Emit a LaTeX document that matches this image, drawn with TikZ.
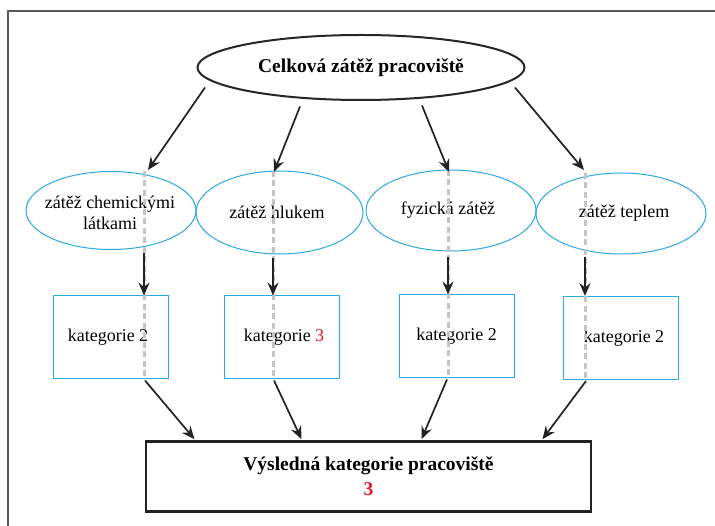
\documentclass[tikz,border=0pt]{standalone}
\usepackage{fontspec}
\setmainfont{Liberation Serif}
\usetikzlibrary{shapes.geometric,arrows.meta,calc}
\definecolor{ublue}{HTML}{29A9E1}
\definecolor{ured}{HTML}{E8152B}
\definecolor{frameg}{HTML}{5A5A5A}
\definecolor{dashg}{HTML}{C4C4C4}
\definecolor{arr}{HTML}{222222}
\begin{document}
\begin{tikzpicture}[x=1pt,y=-1pt,
  ell/.style={draw=ublue, line width=1pt, ellipse, inner sep=0pt},
  topell/.style={draw=black!85, line width=2pt, ellipse, inner sep=0pt},
  catbox/.style={draw=ublue, line width=1pt, rectangle, inner sep=0pt, minimum width=115pt, minimum height=83pt, font=\fontsize{18}{21}\selectfont},
  resbox/.style={draw=arr, line width=2.6pt, rectangle, inner sep=0pt, minimum width=445pt, minimum height=70pt, align=center, font=\bfseries\fontsize{19.5}{25}\selectfont},
  txt/.style={inner sep=0pt, align=center, font=\fontsize{18}{21}\selectfont},
  btxt/.style={inner sep=0pt, align=center, font=\bfseries\fontsize{19.5}{24}\selectfont},
  conn/.style={draw=arr, line width=1.7pt, -{Stealth[length=13pt,width=11pt,inset=4.5pt]}},
  guide/.style={draw=dashg, line width=3pt, dash pattern=on 6pt off 3.5pt}]
\useasboundingbox (0,0) rectangle (715,526);
\fill[white] (0,0) rectangle (715,526);
% outer frame
\coordinate (fl) at (7.5,526);
\coordinate (fc) at (7.5,11.5);
\coordinate (fr) at (715,11.5);
\draw[frameg, line width=2pt] (fl) -- (fc) -- (fr);

% top ellipse
\node[topell, minimum width=327pt, minimum height=65pt] (top) at (361,67.5) {};
\node[btxt] (toptxt) at (top.center) {Celková zátěž pracoviště};

% middle ellipses
\node[ell, minimum width=170pt, minimum height=78pt] (e1) at (111,210.5) {};
\node[ell, minimum width=167pt, minimum height=83pt] (e2) at (279.5,212.5) {};
\node[ell, minimum width=170pt, minimum height=81pt] (e3) at (451,210.5) {};
\node[ell, minimum width=170pt, minimum height=81pt] (e4) at (621,213.5) {};
\node[txt] (t1) at (110,212.5) {zátěž chemickými\\látkami};
\node[txt] (t2) at (277,212) {zátěž hlukem};
\node[txt] (t3) at (448,210) {fyzická zátěž};
\node[txt] (t4) at (624,213) {zátěž teplem};

% category boxes
\node[catbox] (b1) at (110.5,337.5) {\hspace*{-5pt}kategorie 2};
\node[catbox] (b2) at (281.5,337.5) {\hspace*{5pt}kategorie \textcolor{ured}{3}};
\node[catbox] (b3) at (456.5,336.5) {\raisebox{3pt}{kategorie 2}};
\node[catbox] (b4) at (621,338) {\hspace*{6pt}kategorie 2};

% result box
\node[resbox] (bot) at (368.5,476.5) {Výsledná kategorie pracoviště\\\textcolor{ured}{3}};

% dashed guides
\draw[guide] ($(e1.center)+(33,-39.5)$) -- ($(b1.south)+(33.5,0)$);
\draw[guide] ($(e2.center)+(-6.5,-41.5)$) -- ($(b2.south)+(-8.5,0)$);
\draw[guide] ($(e3.center)+(-3,-40.5)$) -- ($(b3.south)+(-8.5,0)$);
\draw[guide] ($(e4.center)+(-36,-40.5)$) -- ($(b4.south)+(-36,0)$);

% arrows top -> middle
\draw[conn] ($(top.center)+(-156,20)$) -- ($(e1.center)+(37,-40.5)$);
\draw[conn] ($(top.center)+(-61,39)$) -- ($(e2.center)+(-5.5,-40.5)$);
\draw[conn] ($(top.center)+(61,38)$) -- ($(e3.center)+(-2,-38.5)$);
\draw[conn] ($(top.center)+(154,20)$) -- ($(e4.center)+(-37,-43.5)$);

% arrows middle -> boxes
\draw[conn] ($(e1.center)+(33,42.5)$) -- ($(b1.north)+(33.5,0)$);
\draw[conn] ($(e2.center)+(-6.5,45.5)$) -- ($(b2.north)+(-8.5,0)$);
\draw[conn] ($(e3.center)+(-3,46.5)$) -- ($(b3.north)+(-8.5,0)$);
\draw[conn] ($(e4.center)+(-36,43.5)$) -- ($(b4.north)+(-36,0)$);

% arrows boxes -> result
\draw[conn] ($(b1.south)+(34.5,1)$) -- ($(bot.north)+(-174,-1)$);
\draw[conn] ($(b2.south)+(-7.5,1)$) -- ($(bot.north)+(-67,-1)$);
\draw[conn] ($(b3.south)+(-9.5,1)$) -- ($(bot.north)+(53,-1)$);
\draw[conn] ($(b4.south)+(-35,1)$) -- ($(bot.north)+(174,-1)$);
\end{tikzpicture}
\end{document}
